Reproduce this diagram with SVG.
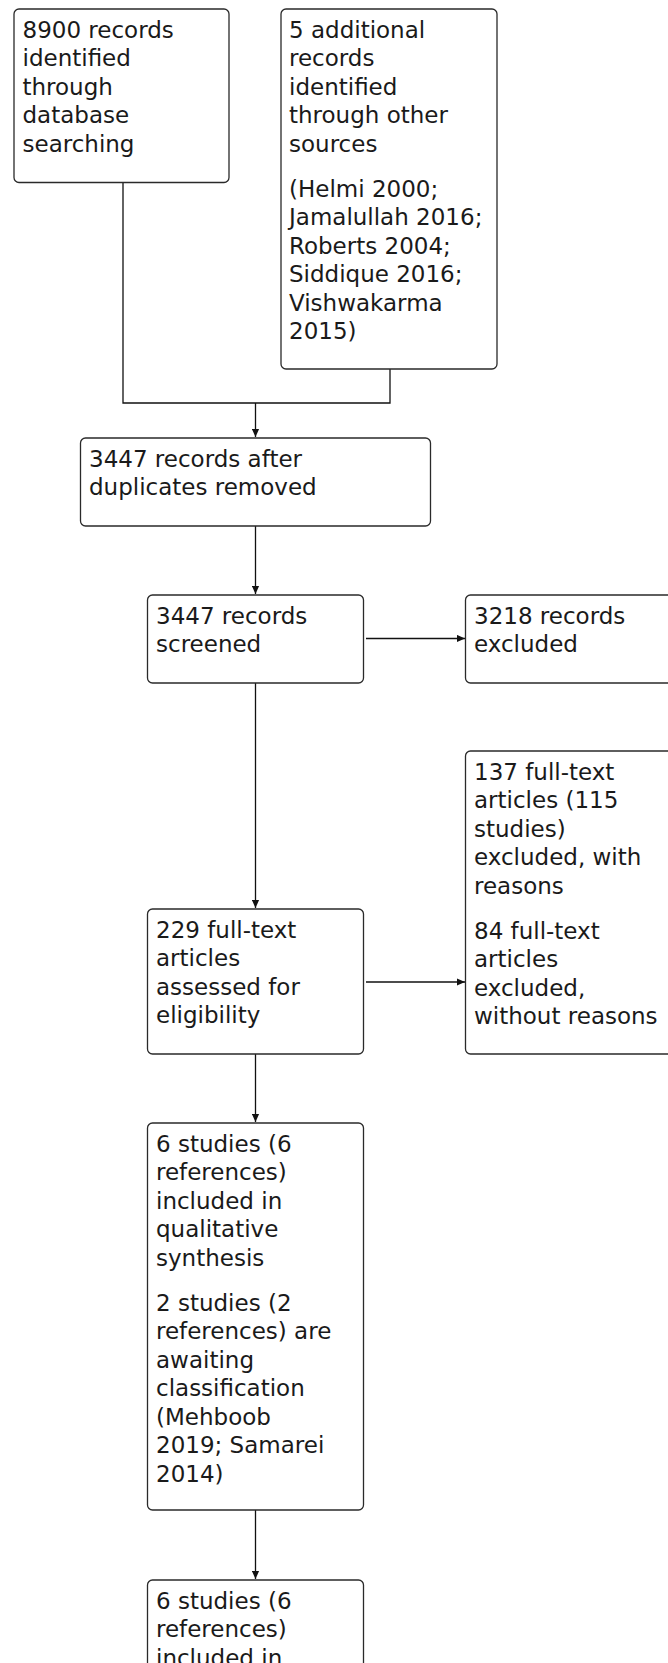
<svg xmlns="http://www.w3.org/2000/svg" width="668" height="1663" viewBox="0 0 668 1663">
<defs>
<style>
.box{fill:#fff;stroke:#2a2a2a;stroke-width:1.3}
.t{font-family:"DejaVu Sans",Verdana,sans-serif;font-size:23px;fill:#1a1a1a}
.c{fill:none;stroke:#111;stroke-width:1.3}
</style>
<marker id="ah" viewBox="0 0 10 10" refX="10" refY="5" markerWidth="9" markerHeight="8" markerUnits="userSpaceOnUse" orient="auto">
<path d="M0,0.5 L10,5 L0,9.5 z" fill="#111"/>
</marker>
</defs>
<rect width="668" height="1663" fill="#fff"/>
<g id="connectors">
<polyline class="c" points="123,182.5 123,403 390,403 390,369"/>
<line class="c" x1="255.5" y1="403" x2="255.5" y2="437" marker-end="url(#ah)"/>
<line class="c" x1="255.5" y1="526" x2="255.5" y2="594" marker-end="url(#ah)"/>
<line class="c" x1="366" y1="638.5" x2="465" y2="638.5" marker-end="url(#ah)"/>
<line class="c" x1="255.5" y1="683" x2="255.5" y2="908" marker-end="url(#ah)"/>
<line class="c" x1="366" y1="982" x2="465" y2="982" marker-end="url(#ah)"/>
<line class="c" x1="255.5" y1="1054" x2="255.5" y2="1122" marker-end="url(#ah)"/>
<line class="c" x1="255.5" y1="1510" x2="255.5" y2="1579" marker-end="url(#ah)"/>
</g>
<g id="n1">
<rect class="box" x="14" y="9" width="215" height="173.5" rx="5"/>
<text class="t"><tspan x="22.5" y="37.5">8900 records</tspan><tspan x="22.5" y="66">identified</tspan><tspan x="22.5" y="94.5">through</tspan><tspan x="22.5" y="123">database</tspan><tspan x="22.5" y="151.5">searching</tspan></text>
</g>
<g id="n2">
<rect class="box" x="281" y="9" width="216" height="360" rx="5"/>
<text class="t"><tspan x="289" y="37.5">5 additional</tspan><tspan x="289" y="66">records</tspan><tspan x="289" y="94.5">identified</tspan><tspan x="289" y="123">through other</tspan><tspan x="289" y="151.5">sources</tspan><tspan x="289" y="196.5">(Helmi 2000;</tspan><tspan x="289" y="225">Jamalullah 2016;</tspan><tspan x="289" y="253.5">Roberts 2004;</tspan><tspan x="289" y="282">Siddique 2016;</tspan><tspan x="289" y="310.5">Vishwakarma</tspan><tspan x="289" y="339">2015)</tspan></text>
</g>
<g id="n3">
<rect class="box" x="80.5" y="438" width="350" height="88" rx="5"/>
<text class="t"><tspan x="89" y="466.5">3447 records after</tspan><tspan x="89" y="495">duplicates removed</tspan></text>
</g>
<g id="n4">
<rect class="box" x="147.5" y="595" width="216" height="88" rx="5"/>
<text class="t"><tspan x="156" y="623.5">3447 records</tspan><tspan x="156" y="652">screened</tspan></text>
</g>
<g id="n5">
<rect class="box" x="465.5" y="595" width="230" height="88" rx="5"/>
<text class="t"><tspan x="474" y="623.5">3218 records</tspan><tspan x="474" y="652">excluded</tspan></text>
</g>
<g id="n6">
<rect class="box" x="465.5" y="751" width="230" height="303" rx="5"/>
<text class="t"><tspan x="474" y="779.5">137 full-text</tspan><tspan x="474" y="808">articles (115</tspan><tspan x="474" y="836.5">studies)</tspan><tspan x="474" y="865">excluded, with</tspan><tspan x="474" y="893.5">reasons</tspan><tspan x="474" y="938.5">84 full-text</tspan><tspan x="474" y="967">articles</tspan><tspan x="474" y="995.5">excluded,</tspan><tspan x="474" y="1024">without reasons</tspan></text>
</g>
<g id="n7">
<rect class="box" x="147.5" y="909" width="216" height="145" rx="5"/>
<text class="t"><tspan x="156" y="937.5">229 full-text</tspan><tspan x="156" y="966">articles</tspan><tspan x="156" y="994.5">assessed for</tspan><tspan x="156" y="1023">eligibility</tspan></text>
</g>
<g id="n8">
<rect class="box" x="147.5" y="1123" width="216" height="387" rx="5"/>
<text class="t"><tspan x="156" y="1151.5">6 studies (6</tspan><tspan x="156" y="1180">references)</tspan><tspan x="156" y="1208.5">included in</tspan><tspan x="156" y="1237">qualitative</tspan><tspan x="156" y="1265.5">synthesis</tspan><tspan x="156" y="1310.5">2 studies (2</tspan><tspan x="156" y="1339">references) are</tspan><tspan x="156" y="1367.5">awaiting</tspan><tspan x="156" y="1396">classification</tspan><tspan x="156" y="1424.5">(Mehboob</tspan><tspan x="156" y="1453">2019; Samarei</tspan><tspan x="156" y="1481.5">2014)</tspan></text>
</g>
<g id="n9">
<rect class="box" x="147.5" y="1580" width="216" height="120" rx="5"/>
<text class="t"><tspan x="156" y="1608.5">6 studies (6</tspan><tspan x="156" y="1637">references)</tspan><tspan x="156" y="1665.5">included in</tspan></text>
</g>
</svg>
